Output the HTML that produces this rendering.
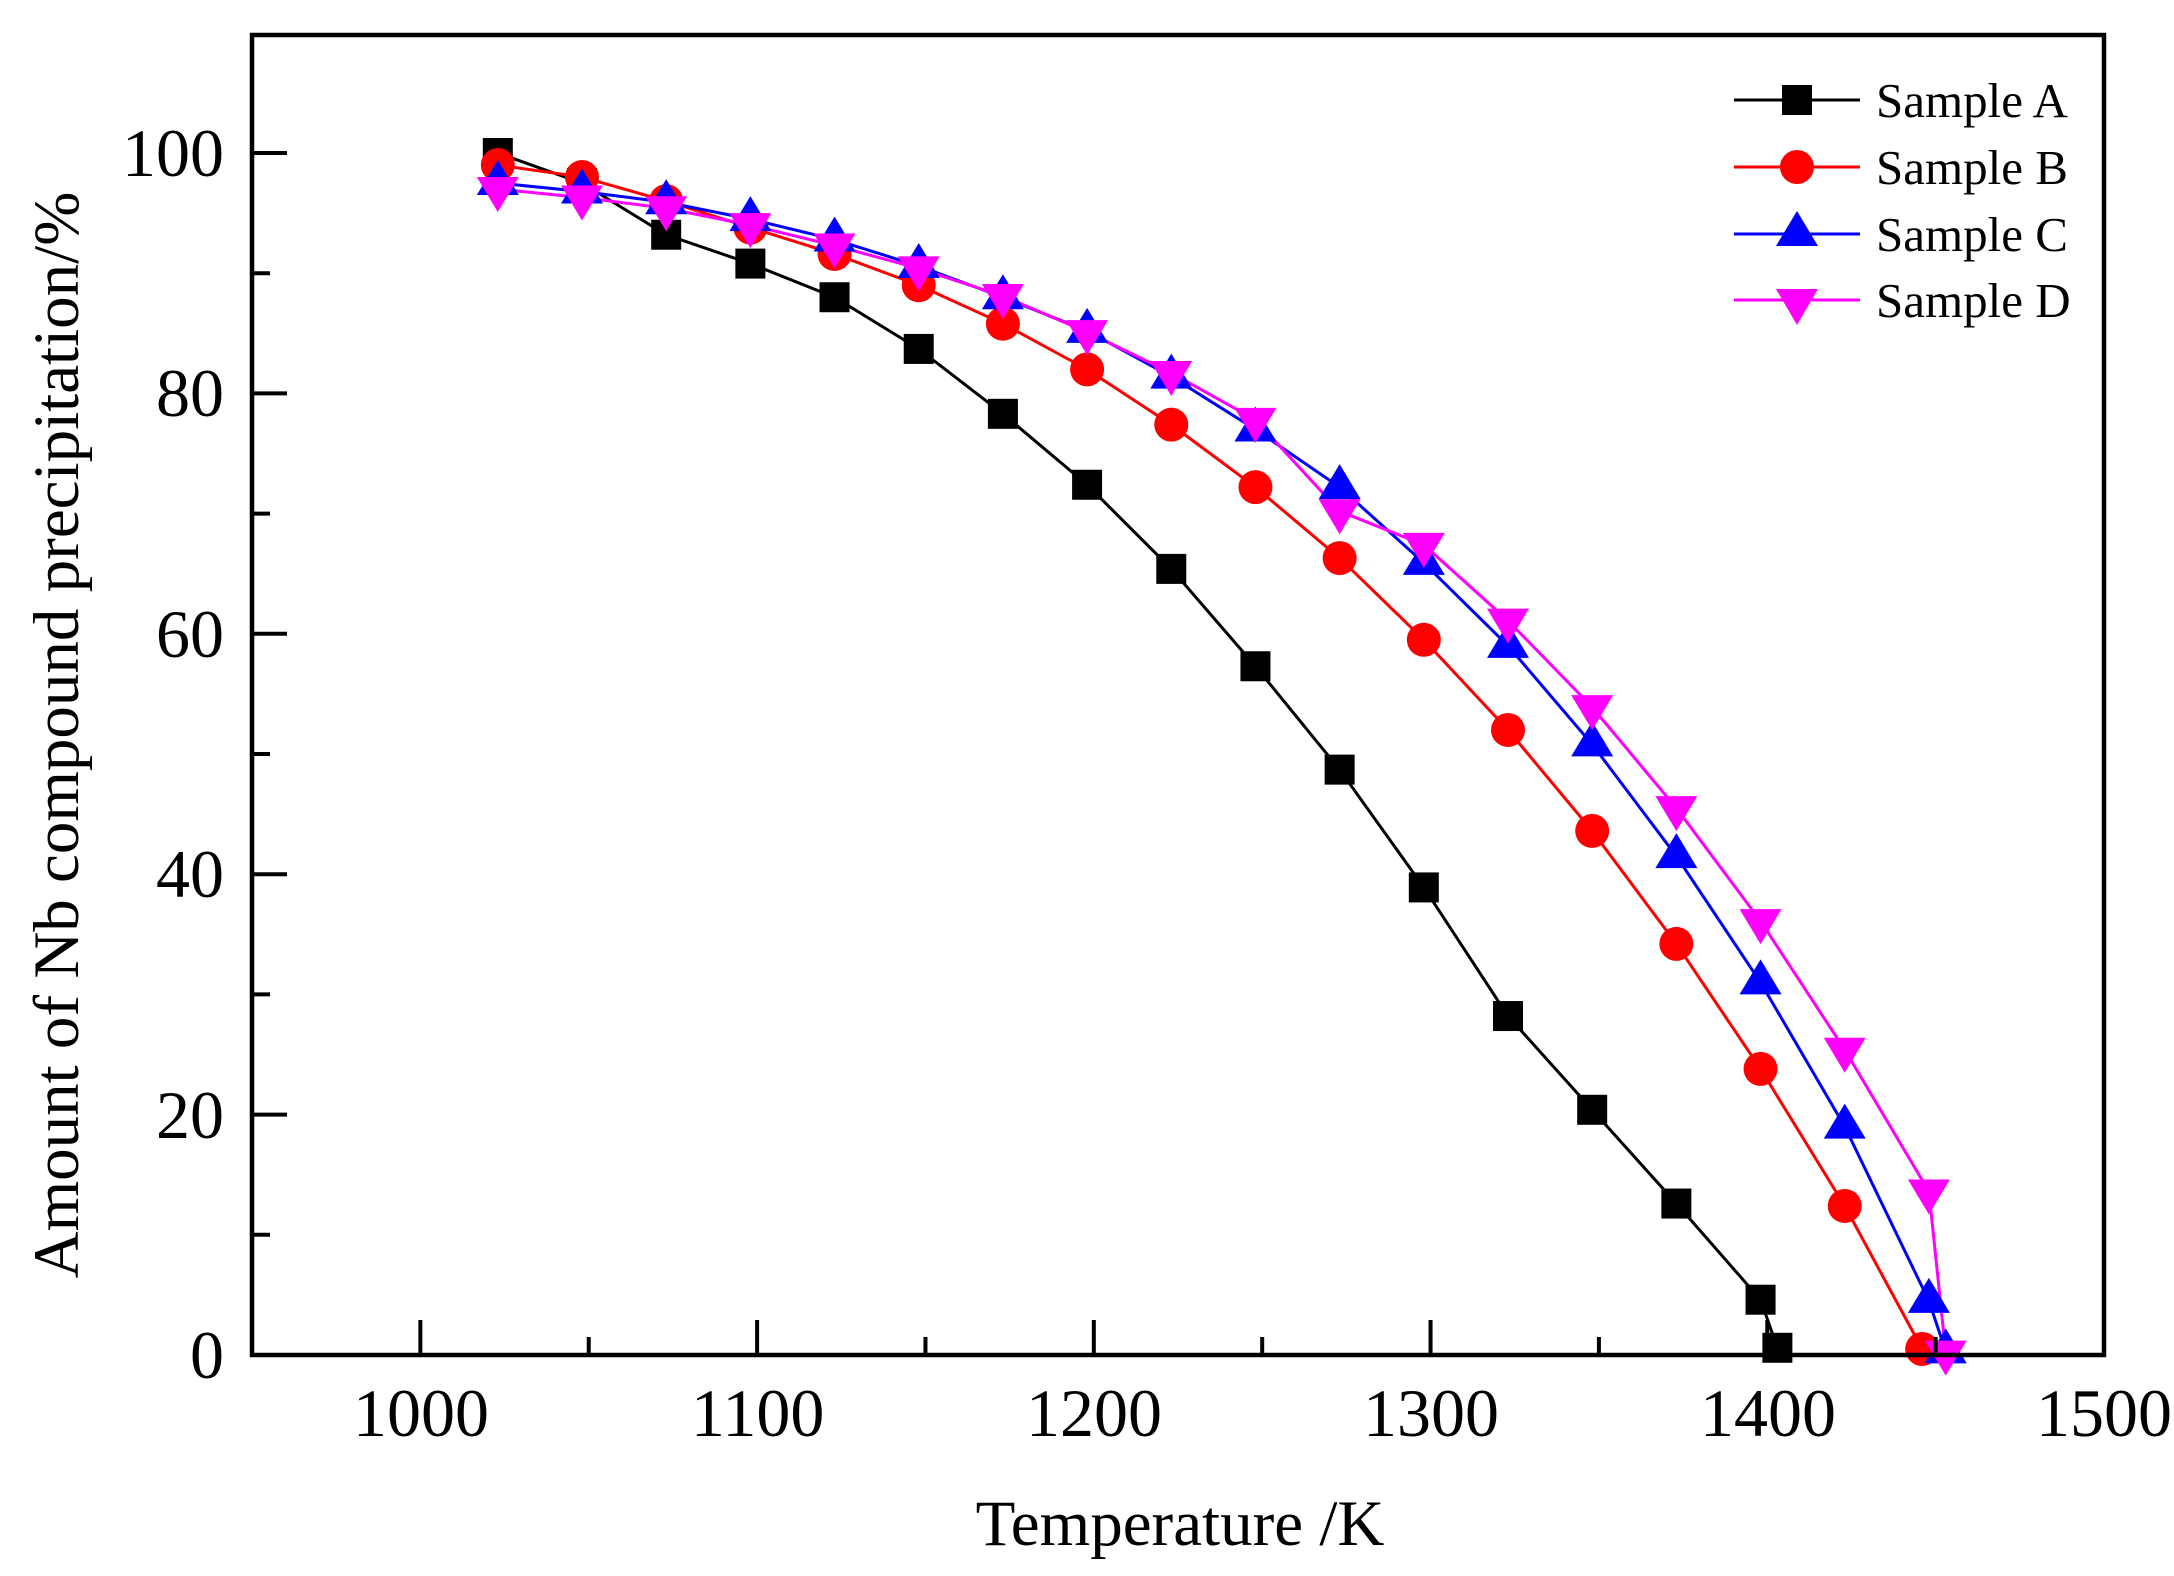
<!DOCTYPE html>
<html><head><meta charset="utf-8"><style>
html,body{margin:0;padding:0;background:#fff;}
svg{display:block;}
text{font-family:"Liberation Serif",serif;fill:#000;}
</style></head><body>
<svg id="s" width="2174" height="1576" viewBox="0 0 2174 1576" xmlns="http://www.w3.org/2000/svg">
<rect width="2174" height="1576" fill="#fff"/>
<g id="plot"></g>
<rect x="252" y="35" width="1852" height="1320" fill="none" stroke="#000" stroke-width="4.5"/>
<g id="ticks" stroke="#000" stroke-width="4"></g>
<g font-size="68" text-anchor="middle">
<text x="421" y="1436">1000</text><text x="757.6" y="1436">1100</text><text x="1094" y="1436">1200</text>
<text x="1431" y="1436">1300</text><text x="1768" y="1436">1400</text><text x="2104" y="1436">1500</text>
</g>
<g font-size="68" text-anchor="end">
<text x="224" y="1378">0</text><text x="224" y="1138">20</text><text x="224" y="897">40</text>
<text x="224" y="657">60</text><text x="224" y="416">80</text><text x="224" y="176">100</text>
</g>
<text x="1180" y="1545" font-size="65" text-anchor="middle">Temperature /K</text>
<text transform="translate(78,735) rotate(-90)" font-size="65" text-anchor="middle">Amount of Nb compound precipitation/%</text>
<g font-size="49">
<line x1="1734" y1="100" x2="1860" y2="100" stroke="#000" stroke-width="3"/>
<rect x="1782" y="85" width="30" height="30" fill="#000"/>
<text x="1876" y="117">Sample A</text>
<line x1="1734" y1="167" x2="1860" y2="167" stroke="#f00" stroke-width="3"/>
<circle cx="1797" cy="167" r="17" fill="#f00"/>
<text x="1876" y="184">Sample B</text>
<line x1="1734" y1="234" x2="1860" y2="234" stroke="#00f" stroke-width="3"/>
<polygon points="1797,211 1818,246 1776,246" fill="#00f"/>
<text x="1876" y="251">Sample C</text>
<line x1="1734" y1="300" x2="1860" y2="300" stroke="#f0f" stroke-width="3"/>
<polygon points="1776,289 1818,289 1797,325" fill="#f0f"/>
<text x="1876" y="317">Sample D</text>
</g>
</svg>
<script>
var NS="http://www.w3.org/2000/svg";
function X(t){return 252+(t-950)*3.3673;}
function Y(v){return 1355-v*12.02;}
var tk=document.getElementById('ticks');
function ln(p,x1,y1,x2,y2){var l=document.createElementNS(NS,'line');l.setAttribute('x1',x1);l.setAttribute('y1',y1);l.setAttribute('x2',x2);l.setAttribute('y2',y2);p.appendChild(l);}
for(var t=1000;t<=1450;t+=50){var L=(t%100==0)?35:18;ln(tk,X(t),1355,X(t),1355-L);}
for(var v=10;v<=100;v+=10){var L=(v%20==0)?35:18;ln(tk,252,Y(v),252+L,Y(v));}
var T=[];for(var t=1023;t<=1423;t+=25)T.push(t);
var A=[100,97.5,93.2,90.8,88,83.7,78.3,72.4,65.4,57.3,48.7,38.9,28.2,20.4,12.6,4.6];
var B=[99,98,96,93.8,91.6,89,85.8,82,77.4,72.2,66.3,59.5,52,43.6,34.2,23.8,12.4];
var C=[97.5,96.8,95.9,94.5,92.8,90.6,88,85.2,81.4,77,72.2,65.9,59,50.8,41.5,31,19];
var D=[97,96.3,95.4,94,92.3,90.4,88.1,85.1,81.7,77.8,70.2,67.4,61.1,53.9,45.5,36.1,25.4];
function pts(arr,extra){var p=[];arr.forEach(function(v,i){p.push([T[i],v]);});return p.concat(extra);}
var S=[
 {p:pts(A,[[1403,0.6]]),c:'#000',m:'sq'},
 {p:pts(B,[[1446,0.5]]),c:'#f00',m:'ci'},
 {p:pts(C,[[1448,4.5],[1453,0.3]]),c:'#00f',m:'tu'},
 {p:pts(D,[[1448,13.6],[1453,0.2]]),c:'#f0f',m:'td'}];
var g=document.getElementById('plot');
S.forEach(function(s){var pl=document.createElementNS(NS,'polyline');pl.setAttribute('points',s.p.map(function(q){return X(q[0])+','+Y(q[1]);}).join(' '));pl.setAttribute('fill','none');pl.setAttribute('stroke',s.c);pl.setAttribute('stroke-width','3');g.appendChild(pl);});
S.forEach(function(s){s.p.forEach(function(q){var x=X(q[0]),y=Y(q[1]),e;
 if(s.m=='sq'){e=document.createElementNS(NS,'rect');e.setAttribute('x',x-15);e.setAttribute('y',y-15);e.setAttribute('width',30);e.setAttribute('height',30);}
 else if(s.m=='ci'){e=document.createElementNS(NS,'circle');e.setAttribute('cx',x);e.setAttribute('cy',y);e.setAttribute('r',17);}
 else if(s.m=='tu'){e=document.createElementNS(NS,'polygon');e.setAttribute('points',x+','+(y-23)+' '+(x+21)+','+(y+12)+' '+(x-21)+','+(y+12));}
 else {e=document.createElementNS(NS,'polygon');e.setAttribute('points',(x-21)+','+(y-12)+' '+(x+21)+','+(y-12)+' '+x+','+(y+23));}
 e.setAttribute('fill',s.c);g.appendChild(e);});});
</script>
</body></html>
